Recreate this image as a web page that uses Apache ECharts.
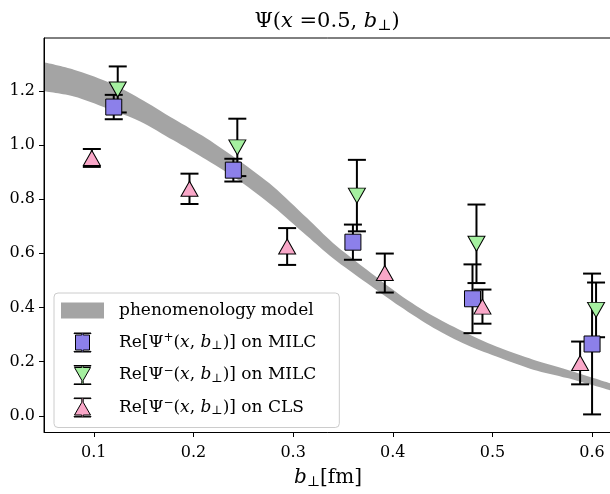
<!DOCTYPE html>
<html>
<head>
<meta charset="utf-8">
<script src="https://cdn.jsdelivr.net/npm/echarts@6/dist/echarts.min.js"></script>
<style>
  html, body { margin: 0; padding: 0; background: #fff; }
  #chart { width: 610px; height: 494px; }
</style>
</head>
<body>
<div id="chart"></div>
<script>
// phenomenology band (lower / upper edge)
var bandX    = [0.05, 0.08, 0.113, 0.146, 0.18, 0.213, 0.247, 0.28, 0.314, 0.34, 0.374, 0.407, 0.441, 0.474, 0.508, 0.541, 0.575, 0.62];
var bandLow  = [1.198, 1.179, 1.136, 1.088, 1.017, 0.945, 0.865, 0.773, 0.664, 0.582, 0.490, 0.404, 0.324, 0.262, 0.213, 0.170, 0.139, 0.092];
var bandHigh = [1.305, 1.278, 1.234, 1.172, 1.097, 1.025, 0.939, 0.847, 0.730, 0.638, 0.539, 0.447, 0.367, 0.305, 0.250, 0.207, 0.170, 0.118];

// Re[Psi+] on MILC
var milcPlusX   = [0.12, 0.24, 0.36, 0.48, 0.60];
var milcPlusY   = [1.140, 0.907, 0.641, 0.432, 0.265];
var milcPlusErr = [0.045, 0.042, 0.065, 0.127, 0.260];

// Re[Psi-] on MILC
var milcMinusX   = [0.124, 0.244, 0.364, 0.484, 0.604];
var milcMinusY   = [1.205, 0.991, 0.813, 0.635, 0.391];
var milcMinusErr = [0.085, 0.106, 0.132, 0.145, 0.101];

// Re[Psi-] on CLS
var clsX   = [0.098, 0.196, 0.294, 0.392, 0.490, 0.588];
var clsY   = [0.952, 0.838, 0.625, 0.527, 0.403, 0.195];
var clsErr = [0.033, 0.056, 0.068, 0.072, 0.063, 0.079];

var xTicks = [0.1, 0.2, 0.3, 0.4, 0.5, 0.6];
var yTicks = [0.0, 0.2, 0.4, 0.6, 0.8, 1.0, 1.2];

var FONT = "DejaVu Serif";
var BLUE = "#8c80ea", GREEN = "#a5f0a0", PINK = "#f9a7c8", GREY = "#a4a4a4";

function zip(xs, ys, es) {
  return xs.map(function (x, i) { return es ? [x, ys[i], es[i]] : [x, ys[i]]; });
}

function drawErr(params, api) {
  var x = api.value(0), y = api.value(1), e = api.value(2);
  var top = api.coord([x, y + e]);
  var bot = api.coord([x, y - e]);
  var cap = 9;
  var st = { stroke: "#000", lineWidth: 2 };
  return {
    type: "group",
    children: [
      { type: "line", shape: { x1: top[0], y1: top[1], x2: bot[0], y2: bot[1] }, style: st },
      { type: "line", shape: { x1: top[0] - cap, y1: top[1], x2: top[0] + cap, y2: top[1] }, style: st },
      { type: "line", shape: { x1: bot[0] - cap, y1: bot[1], x2: bot[0] + cap, y2: bot[1] }, style: st }
    ]
  };
}

function errSeries(xs, ys, es) {
  return {
    type: "custom", renderItem: drawErr, z: 3, silent: true,
    encode: { x: 0, y: 1 },
    data: zip(xs, ys, es)
  };
}

// legend icons: marker with its little error bar
var iconBand = "path://M0,0H43V16H0Z";
var iconSquare = "path://M0,0H17V0.6H9.2V2H15.5V17H9.2V18.4H17V19H0V18.4H7.8V17H1.5V2H7.8V0.6H0Z";
var iconDown = "path://M0,0H17V0.6H9.2V2H16.5L9.2,14.775V18.4H17V19H0V18.4H7.8V14.775L0.5,2H7.8V0.6H0Z";
var iconUp = "path://M0,0H17V0.6H9.2V4.225L16.5,17H9.2V18.4H17V19H0V18.4H7.8V17H0.5L7.8,4.225V0.6H0Z";

var NAME_BAND = "phenomenology model";
var NAME_PLUS = "MILC plus";
var NAME_MINUS = "MILC minus";
var NAME_CLS = "CLS minus";

var legendText = {};
legendText[NAME_BAND] = "{g| }{n|phenomenology model}";
legendText[NAME_PLUS] = "{g| }{n|Re[Ψ}{sp|+}{n|(}{i|x}{n|, }{i|b}{sb|⊥}{n|)] on MILC}";
legendText[NAME_MINUS] = "{g| }{n|Re[Ψ}{sp|−}{n|(}{i|x}{n|, }{i|b}{sb|⊥}{n|)] on MILC}";
legendText[NAME_CLS] = "{g| }{n|Re[Ψ}{sp|−}{n|(}{i|x}{n|, }{i|b}{sb|⊥}{n|)] on CLS}";

var chart = echarts.init(document.getElementById("chart"), null, { renderer: "canvas" });

// band = grey area under the upper edge, white area under the lower edge on top of it
var bandLine = {
  type: "line", silent: true, smooth: 0.3,
  showSymbol: false, symbol: "none", lineStyle: { width: 0, opacity: 0 }
};

var option = {
  animation: false,
  backgroundColor: "#fff",
  grid: {
    left: 44, top: 38, width: 568, height: 394,
    show: true, borderColor: "#000", borderWidth: 1, backgroundColor: "transparent",
    containLabel: false, outerBoundsMode: "none"
  },
  graphic: [{
    type: "text", x: 327, y: 22, z: 10,
    style: {
      text: "{n|Ψ(}{i|x}{n| =0.5, }{i|b}{sb|⊥}{n|)}",
      align: "center", verticalAlign: "middle",
      rich: {
        n: { fontFamily: FONT, fontSize: 21, fill: "#000" },
        i: { fontFamily: FONT, fontSize: 21, fontStyle: "italic", fill: "#000" },
        sb: { fontFamily: FONT, fontSize: 15, fill: "#000", padding: [8, 0, 0, 0] }
      }
    }
  }],
  legend: {
    orient: "vertical", left: 54, top: 293, z: 20,
    padding: [8, 23, 10, 7],
    itemWidth: 43, itemHeight: 19, itemGap: 12,
    backgroundColor: "rgba(255,255,255,0.8)",
    borderColor: "#cccccc", borderWidth: 1, borderRadius: 4,
    selectedMode: false,
    data: [
      { name: NAME_BAND, icon: iconBand, itemStyle: { color: GREY, borderWidth: 0 } },
      { name: NAME_PLUS, icon: iconSquare, itemStyle: { color: BLUE, borderColor: "#000", borderWidth: 1 } },
      { name: NAME_MINUS, icon: iconDown, itemStyle: { color: GREEN, borderColor: "#000", borderWidth: 1 } },
      { name: NAME_CLS, icon: iconUp, itemStyle: { color: PINK, borderColor: "#000", borderWidth: 1 } }
    ],
    formatter: function (name) { return legendText[name]; },
    textStyle: {
      lineHeight: 19,
      rich: {
        g: { width: 10, fontSize: 17 },
        n: { fontFamily: FONT, fontSize: 17, color: "#000" },
        i: { fontFamily: FONT, fontSize: 17, fontStyle: "italic", color: "#000" },
        sp: { fontFamily: FONT, fontSize: 12, color: "#000", padding: [0, 0, 9, 0] },
        sb: { fontFamily: FONT, fontSize: 12, color: "#000", padding: [7, 0, 0, 0] }
      }
    }
  },
  xAxis: {
    type: "value", min: 0.05, max: 0.62, z: 10,
    name: "{i|b}{sb|⊥}{n|[fm]}",
    nameLocation: "middle", nameGap: 35,
    nameTextStyle: {
      rich: {
        n: { fontFamily: FONT, fontSize: 20, color: "#000" },
        i: { fontFamily: FONT, fontSize: 20, fontStyle: "italic", color: "#000" },
        sb: { fontFamily: FONT, fontSize: 14, color: "#000", padding: [8, 0, 0, 0] }
      }
    },
    axisLine: { show: true, onZero: false, lineStyle: { color: "#000", width: 1 } },
    axisTick: { show: true, length: 5, customValues: xTicks, lineStyle: { color: "#000", width: 1 } },
    axisLabel: {
      customValues: xTicks, margin: 13, color: "#000", fontFamily: FONT, fontSize: 16,
      formatter: function (v) { return v.toFixed(1); }
    },
    splitLine: { show: false }
  },
  yAxis: {
    type: "value", min: -0.06, max: 1.395, z: 10,
    axisLine: { show: true, onZero: false, lineStyle: { color: "#000", width: 1 } },
    axisTick: { show: true, length: 5, customValues: yTicks, lineStyle: { color: "#000", width: 1 } },
    axisLabel: {
      customValues: yTicks, margin: 9, color: "#000", fontFamily: FONT, fontSize: 16,
      formatter: function (v) { return v.toFixed(1); }
    },
    splitLine: { show: false }
  },
  series: [
    Object.assign({}, bandLine, {
      name: NAME_BAND, z: 1,
      itemStyle: { color: GREY },
      areaStyle: { color: GREY, opacity: 1, origin: "start" },
      data: zip(bandX, bandHigh)
    }),
    Object.assign({}, bandLine, {
      name: "band low", z: 1,
      itemStyle: { color: "#fff" },
      areaStyle: { color: "#fff", opacity: 1, origin: "start" },
      data: zip(bandX, bandLow)
    }),
    errSeries(milcPlusX, milcPlusY, milcPlusErr),
    errSeries(milcMinusX, milcMinusY, milcMinusErr),
    errSeries(clsX, clsY, clsErr),
    {
      name: NAME_PLUS, type: "scatter", z: 5, symbol: "rect", symbolSize: 16,
      itemStyle: { color: BLUE, borderColor: "#000", borderWidth: 1, opacity: 1 },
      data: zip(milcPlusX, milcPlusY)
    },
    {
      name: NAME_MINUS, type: "scatter", z: 6, symbol: "triangle", symbolRotate: 180, symbolSize: [17, 15],
      itemStyle: { color: GREEN, borderColor: "#000", borderWidth: 1, opacity: 1 },
      data: zip(milcMinusX, milcMinusY)
    },
    {
      name: NAME_CLS, type: "scatter", z: 7, symbol: "triangle", symbolSize: [17, 15],
      itemStyle: { color: PINK, borderColor: "#000", borderWidth: 1, opacity: 1 },
      data: zip(clsX, clsY)
    }
  ]
};

chart.setOption(option);
</script>
</body>
</html>
